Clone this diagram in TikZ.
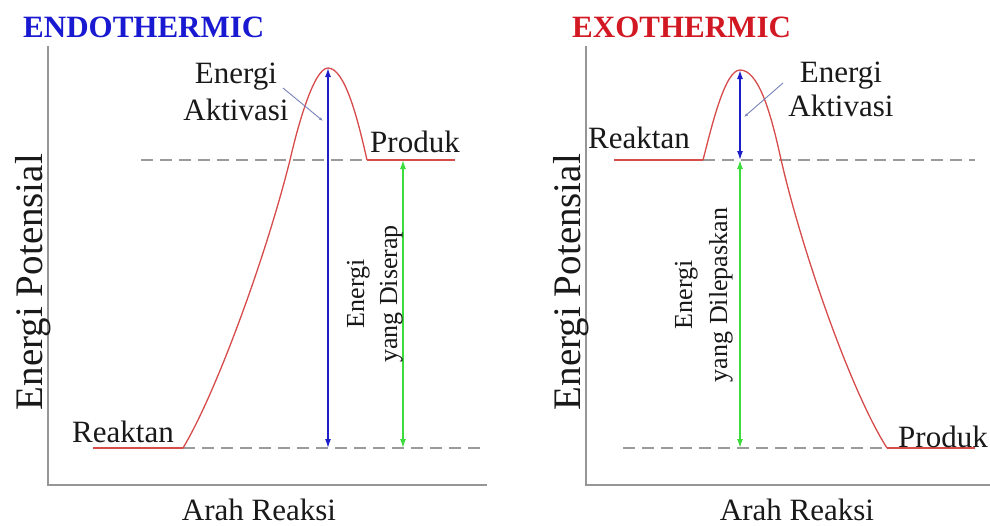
\documentclass[tikz,border=0pt]{standalone}
\usepackage{fontspec}
\setmainfont{Liberation Serif}
\usetikzlibrary{arrows.meta}
\definecolor{curvered}{RGB}{215,75,75}
\definecolor{axisgray}{RGB}{150,150,150}
\definecolor{dashgray}{RGB}{155,155,155}
\definecolor{arrblue}{RGB}{30,30,200}
\definecolor{arrgreen}{RGB}{60,220,60}
\definecolor{titleblue}{RGB}{25,25,210}
\definecolor{titlered}{RGB}{210,25,35}
\definecolor{pointercol}{RGB}{120,130,185}
\tikzset{
  axisline/.style={draw=axisgray, line width=1.8pt},
  levelline/.style={draw=curvered, line width=1.8pt},
  curveline/.style={draw=curvered, line width=1.3pt},
  guideline/.style={draw=dashgray, line width=1.4pt, dash pattern=on 12pt off 7pt},
  tipb/.tip={Latex[length=9pt,width=6pt]},
  actarrow/.style={draw=arrblue, line width=1.4pt, tipb-tipb},
  heatarrow/.style={draw=arrgreen, line width=1.4pt, tipb-tipb},
  pointerline/.style={draw=pointercol, line width=0.9pt, -{Latex[length=4pt,width=3pt]}},
  lbl/.style={font=\fontsize{31}{37}\selectfont, inner sep=0pt, anchor=base west, text=black!90},
  ctrlbl/.style={font=\fontsize{31}{37}\selectfont, inner sep=0pt, anchor=base, text=black!90},
  axislbl/.style={font=\fontsize{39}{46}\selectfont, inner sep=0pt, anchor=base, rotate=90, text=black!90},
  smalllbl/.style={font=\fontsize{26}{31}\selectfont, inner sep=0pt, anchor=base, rotate=90, text=black!90},
  titlelbl/.style={font=\fontsize{31}{37}\selectfont\bfseries, inner sep=0pt, anchor=base west}
}
\begin{document}
\begin{tikzpicture}[x=1pt,y=-1pt]
\useasboundingbox[fill=white] (0,0) rectangle (990,525);

% ================= ENDOTHERMIC =================
\node[titlelbl, text=titleblue] (titleL) at (23,37) {ENDOTHERMIC};
\coordinate (axLtop) at (48,46);
\coordinate (axLorig) at (48,485);
\coordinate (axLend) at (487,485);
\draw[axisline] (axLtop) -- (axLorig) -- (axLend);
\node[axislbl] (ylblL) at (42,282) {Energi Potensial};
\node[ctrlbl] (xlblL) at (259,520) {Arah Reaksi};

\coordinate (reLa) at (93,448);
\coordinate (reLb) at (183,448);
\coordinate (prLa) at (367,160);
\coordinate (prLb) at (455,160);
\coordinate (peakL) at (328,68);
\coordinate (midL) at (290,160);
\coordinate (gdLa) at (141,160);
\coordinate (gdLb) at (480,448);
\draw[guideline] (gdLa) -- (prLa);
\draw[guideline] (reLb) -- (gdLb);
\draw[levelline] (reLa) -- (reLb);
\draw[levelline] (prLa) -- (prLb);
\draw[curveline] (reLb) .. controls (215,395) and (265,260) .. (midL)
  .. controls (298,125) and (314,68) .. (peakL)
  .. controls (345,68) and (358,120) .. (prLa);

\coordinate (blLbot) at (328,448);
\draw[actarrow] (blLbot) -- (peakL);
\coordinate (grLtop) at (403,160);
\coordinate (grLbot) at (403,448);
\draw[heatarrow] (grLbot) -- (grLtop);

\node[ctrlbl] (actL1) at (236,83) {Energi};
\node[ctrlbl] (actL2) at (236,120) {Aktivasi};
\coordinate (ptLs) at (283,88);
\coordinate (ptLe) at (323,121);
\draw[pointerline] (ptLs) -- (ptLe);
\node[lbl] (prodL) at (370,152) {Produk};
\node[lbl] (reakL) at (72,442) {Reaktan};
\node[smalllbl] (enL1) at (364,294) {Energi};
\node[smalllbl] (enL2) at (397,294) {yang Diserap};

% ================= EXOTHERMIC =================
\node[titlelbl, text=titlered] (titleR) at (572,37) {EXOTHERMIC};
\coordinate (axRtop) at (586,46);
\coordinate (axRorig) at (586,485);
\coordinate (axRend) at (990,485);
\draw[axisline] (axRtop) -- (axRorig) -- (axRend);
\node[axislbl] (ylblR) at (580,282) {Energi Potensial};
\node[ctrlbl] (xlblR) at (797,520) {Arah Reaksi};

\coordinate (reRa) at (614,160);
\coordinate (reRb) at (703,160);
\coordinate (prRa) at (887,448);
\coordinate (prRb) at (975,448);
\coordinate (peakR) at (740,70);
\coordinate (midR) at (780,155);
\coordinate (gdRa) at (975,160);
\coordinate (gdRb) at (623,448);
\draw[guideline] (reRb) -- (gdRa);
\draw[guideline] (gdRb) -- (prRa);
\draw[levelline] (reRa) -- (reRb);
\draw[levelline] (prRa) -- (prRb);
\draw[curveline] (reRb) .. controls (712,125) and (725,70) .. (peakR)
  .. controls (758,70) and (770,110) .. (midR)
  .. controls (800,245) and (850,390) .. (prRa);

\coordinate (blRbot) at (740,160);
\draw[actarrow] (blRbot) -- (peakR);
\coordinate (grRtop) at (740,160);
\coordinate (grRbot) at (740,448);
\draw[heatarrow] (grRbot) -- (grRtop);

\node[ctrlbl] (actR1) at (841,82) {Energi};
\node[ctrlbl] (actR2) at (841,116) {Aktivasi};
\coordinate (ptRs) at (783,83);
\coordinate (ptRe) at (744,117);
\draw[pointerline] (ptRs) -- (ptRe);
\node[lbl] (reakR) at (588,148) {Reaktan};
\node[lbl] (prodR) at (898,447) {Produk};
\node[smalllbl] (enR1) at (692,295) {Energi};
\node[smalllbl] (enR2) at (727,295) {yang Dilepaskan};
\end{tikzpicture}
\end{document}
